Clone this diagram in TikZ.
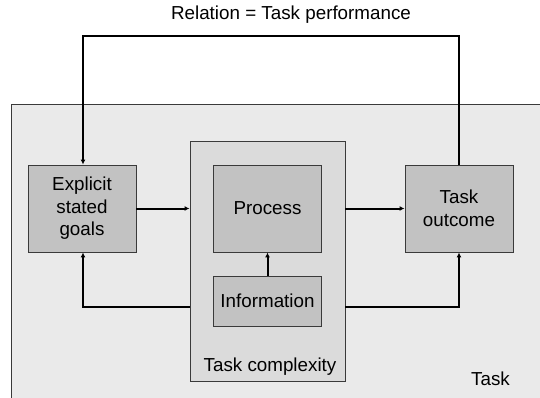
\documentclass[tikz,border=0pt]{standalone}
\usepackage{fontspec}
\setmainfont{Liberation Sans}
\usetikzlibrary{arrows.meta}
\definecolor{taskbg}{HTML}{EAEAEA}
\definecolor{cplxbg}{HTML}{DBDBDB}
\definecolor{boxbg}{HTML}{C2C2C2}
\definecolor{edge}{HTML}{3A3A3A}
\begin{document}
\begin{tikzpicture}[x=1pt,y=-1pt,
  every node/.style={font=\fontsize{18.8}{22.5}\selectfont, inner sep=0pt},
  box/.style={draw=edge, line width=0.9pt, fill=boxbg, align=center, minimum width=108pt, minimum height=87pt},
  conn/.style={line width=2pt, -{Latex[length=5pt,width=5pt]}},
  plain/.style={line width=2pt}]
\useasboundingbox (0,0) rectangle (540,397);
\begin{scope}
\clip (0,0) rectangle (540,397);
\draw[draw=edge, line width=0.9pt, fill=taskbg] (11,104) rectangle (560,420);
\end{scope}
\node[draw=edge, line width=0.9pt, fill=cplxbg, minimum width=155pt, minimum height=240pt] (tc) at (267.5,261) {};
\node[box] (goals) at (82,208.5) {Explicit\\stated\\goals};
\node[box] (proc) at (267.5,208.5) {Process};
\node[box, minimum height=50pt] (info) at (267.5,301) {Information};
\node[box] (out) at (459,208.5) {Task\\outcome};
\node (title) at (291,15) {Relation = Task performance};
\node (tclabel) at (270,367) {Task complexity};
\node[anchor=east] (tasklabel) at (510,379) {Task};
\coordinate (topL) at (83,36);
\coordinate (topR) at (459,36);
\coordinate (botL) at (83,307);
\coordinate (botR) at (459,307);
\draw[conn] (out.north -| topR) -- (topR) -- (topL) -- (goals.north -| topL);
\draw[conn] (goals.east) -- (goals.east -| tc.west);
\draw[conn] (tc.east |- out.west) -- (out.west);
\draw[conn] (info.north) -- (proc.south);
\draw[conn] (tc.west |- botL) -- (botL) -- (goals.south -| botL);
\draw[conn] (tc.east |- botR) -- (botR) -- (out.south -| botR);
\end{tikzpicture}
\end{document}
